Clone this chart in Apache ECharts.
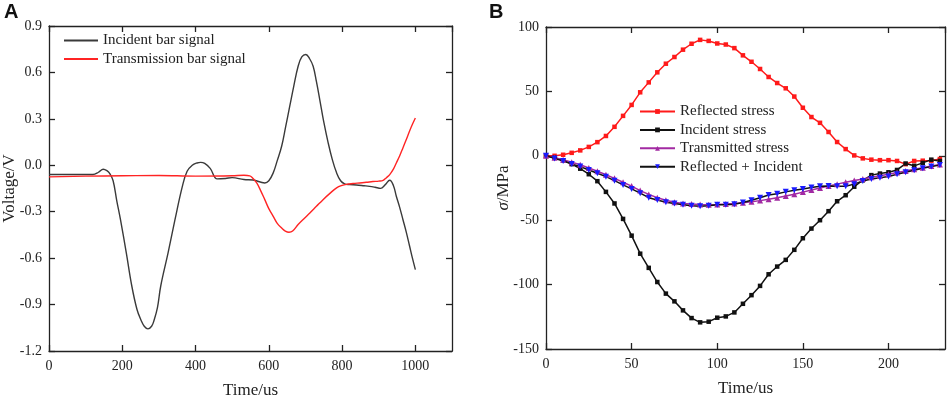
<html>
<head>
<meta charset="UTF-8">
<script src="https://cdn.jsdelivr.net/npm/echarts@6/dist/echarts.min.js"></script>
<style>
  body { margin: 0; background: #fff; }
  #chart { width: 948px; height: 397px; }
</style>
</head>
<body>
<div id="chart"></div>
<script>
// panel A - bar signals
var timeIncA = [0, 60, 120, 135, 148, 158, 166, 175, 185, 195, 211, 226, 240, 251, 260, 270, 280, 287, 296, 305, 325, 344, 364, 377, 391, 404, 414, 425, 440, 459, 482, 500, 532, 557, 589, 600, 612, 623, 635, 646, 657, 668, 680, 690, 701, 711, 721, 730, 739, 750, 762, 773, 785, 796, 807, 820, 839, 860, 875, 890, 905, 918, 930, 940, 948, 957, 966, 975, 984, 992, 1000];
var voltIncA = [-0.06, -0.06, -0.06, -0.045, -0.026, -0.035, -0.054, -0.1, -0.23, -0.35, -0.566, -0.78, -0.93, -1.0, -1.04, -1.057, -1.04, -1.0, -0.92, -0.78, -0.566, -0.35, -0.136, -0.039, 0.0, 0.015, 0.019, 0.012, -0.02, -0.088, -0.085, -0.08, -0.092, -0.095, -0.114, -0.1, -0.049, 0.03, 0.123, 0.25, 0.38, 0.51, 0.64, 0.70, 0.716, 0.69, 0.64, 0.54, 0.425, 0.28, 0.145, 0.04, -0.049, -0.1, -0.12, -0.125, -0.127, -0.132, -0.136, -0.142, -0.149, -0.125, -0.097, -0.13, -0.2, -0.27, -0.35, -0.43, -0.52, -0.6, -0.674];
var timeTraA = [0, 100, 200, 300, 400, 500, 532, 548, 557, 567, 578, 589, 600, 612, 623, 635, 645, 655, 665, 680, 696, 712, 730, 748, 766, 785, 800, 812, 830, 848, 866, 884, 900, 912, 921, 930, 940, 948, 957, 966, 975, 984, 992, 1000];
var voltTraA = [-0.075, -0.07, -0.068, -0.066, -0.07, -0.068, -0.064, -0.068, -0.085, -0.114, -0.165, -0.222, -0.28, -0.33, -0.375, -0.405, -0.425, -0.433, -0.425, -0.383, -0.345, -0.308, -0.265, -0.222, -0.183, -0.146, -0.13, -0.123, -0.118, -0.114, -0.11, -0.105, -0.102, -0.097, -0.08, -0.06, -0.025, 0.015, 0.06, 0.112, 0.165, 0.22, 0.265, 0.306];

// panel B - stresses, one point every 5 us
var timeB = [0, 5, 10, 15, 20, 25, 30, 35, 40, 45, 50, 55, 60, 65, 70, 75, 80, 85, 90, 95, 100, 105, 110, 115, 120, 125, 130, 135, 140, 145, 150, 155, 160, 165, 170, 175, 180, 185, 190, 195, 200, 205, 210, 215, 220, 225, 230];
var reflected = [0, 0, 0.8, 2.3, 4.2, 6.9, 10.6, 15.4, 22.5, 31, 39.5, 49.3, 57, 64.8, 71.5, 76.7, 82.4, 87, 90, 89.2, 87.2, 86.4, 83.6, 78, 73, 67.4, 61.2, 56.5, 52.4, 46, 37.3, 30.1, 25.6, 18.5, 10.7, 5.2, 0.3, -2, -3, -3.4, -3.4, -4, -6.5, -4, -3.8, -3.8, -2.5];
var incident = [0, -1.5, -3.5, -6.5, -10, -14.3, -19.7, -28, -37, -49, -62, -76, -87, -98, -107, -113, -120, -126, -129.3, -128.8, -125.7, -124.7, -121.6, -114.9, -108.2, -101, -92, -86, -80.8, -73, -64, -56.5, -50, -43, -35.3, -30.6, -24, -19, -15, -13.8, -12.8, -11, -6, -7.8, -5.5, -3, -4];
var transmitted = [0, -1.5, -3, -5, -7, -9.5, -12, -14.7, -17.5, -20.5, -23.5, -27, -30, -32.5, -34.5, -36, -37, -37.5, -37.8, -38, -37.8, -37.5, -37, -36.5, -35.7, -34.8, -33.8, -32.5, -31.2, -29.8, -28.2, -26.5, -25, -23.5, -22, -20.5, -19.2, -18, -16.7, -15.5, -14.3, -13, -11.8, -10.5, -9.3, -8, -6.8];
var reflPlusInc = [0, -2, -4, -6.3, -8.4, -11, -13.6, -16.2, -19.3, -22.6, -25.7, -29, -32.5, -34.3, -36, -37, -38, -38.7, -39.2, -38.7, -38, -38, -37.6, -36.3, -34.5, -32.5, -30.4, -29.4, -28, -26.8, -25.7, -24.7, -23.7, -23.4, -23.7, -23.7, -22, -19.5, -18, -17, -16, -14.4, -12.8, -11.2, -9.7, -8.4, -7.1];

function pairs(xs, ys) {
    var out = [];
    for (var i = 0; i < xs.length; i++) {
        out.push([xs[i], ys[i]]);
    }
    return out;
}

var serif = 'Liberation Serif';
var axisCol = '#222';

function valAxis(opt) {
    var a = {
        type: 'value',
        gridIndex: opt.grid,
        position: opt.position,
        min: opt.min,
        max: opt.max,
        interval: opt.interval,
        splitLine: { show: false },
        axisLine: { show: true, onZero: false, lineStyle: { color: axisCol, width: 1.3 } },
        axisTick: { show: true, inside: true, length: 6, lineStyle: { color: axisCol, width: 1.3 } },
        axisLabel: {
            show: !opt.mirror,
            margin: opt.margin || 7,
            color: '#222',
            fontFamily: serif,
            fontSize: 14,
            showMaxLabel: opt.showMax !== false,
            formatter: opt.fmt || function (v) { return String(v); }
        }
    };
    if (opt.name) {
        a.name = opt.name;
        a.nameLocation = 'middle';
        a.nameGap = opt.nameGap;
        a.nameMoveOverlap = false;
        a.nameTextStyle = { color: '#222', fontFamily: serif, fontSize: 17, rich: { i: { fontStyle: 'italic', fontFamily: serif, fontSize: 17, color: '#222' } } };
    }
    return a;
}

var chart = echarts.init(document.getElementById('chart'));
var option = {
    animation: false,
    backgroundColor: '#fff',
    graphic: [
        { type: 'text', left: 4, top: 2, style: { text: 'A', font: 'bold 20px "Liberation Sans"', fill: '#111' } },
        { type: 'text', left: 489, top: 2, style: { text: 'B', font: 'bold 20px "Liberation Sans"', fill: '#111' } }
    ],
    grid: [
        { left: 49, top: 26, width: 403, height: 325, outerBoundsMode: 'none' },
        { left: 546, top: 27, width: 399, height: 322, outerBoundsMode: 'none' }
    ],
    legend: [
        {
            orient: 'vertical', left: 58, top: 28, itemWidth: 34, itemHeight: 8, itemGap: 3.4,
            itemStyle: { opacity: 0 },
            textStyle: { fontFamily: serif, fontSize: 15, color: '#222' },
            data: ['Incident bar signal', 'Transmission bar signal']
        },
        {
            orient: 'vertical', left: 634, top: 99, itemWidth: 35, itemHeight: 6, itemGap: 3.4,
            textStyle: { fontFamily: serif, fontSize: 15, color: '#222' },
            data: ['Reflected stress', 'Incident stress', 'Transmitted stress', 'Reflected + Incident']
        }
    ],
    xAxis: [
        valAxis({ grid: 0, position: 'bottom', min: 0, max: 1100, interval: 200, showMax: false, margin: 8, name: 'Time/us', nameGap: 31 }),
        valAxis({ grid: 0, position: 'top', min: 0, max: 1100, interval: 200, mirror: true }),
        valAxis({ grid: 1, position: 'bottom', min: 0, max: 233, interval: 50, showMax: false, margin: 8, name: 'Time/us', nameGap: 31 }),
        valAxis({ grid: 1, position: 'top', min: 0, max: 233, interval: 50, mirror: true })
    ],
    yAxis: [
        valAxis({ grid: 0, position: 'left', min: -1.2, max: 0.9, interval: 0.3, name: 'Voltage/V', nameGap: 31,
            fmt: function (v) { return v.toFixed(1); } }),
        valAxis({ grid: 0, position: 'right', min: -1.2, max: 0.9, interval: 0.3, mirror: true }),
        valAxis({ grid: 1, position: 'left', min: -150, max: 100, interval: 50, name: '{i|σ}/MPa', nameGap: 34 }),
        valAxis({ grid: 1, position: 'right', min: -150, max: 100, interval: 50, mirror: true })
    ],
    series: [
        {
            name: 'Incident bar signal', type: 'line', xAxisIndex: 0, yAxisIndex: 0,
            data: pairs(timeIncA, voltIncA), smooth: 0.4, symbol: 'none',
            lineStyle: { color: '#3a3a3a', width: 1.4 }, itemStyle: { color: '#3a3a3a' }
        },
        {
            name: 'Transmission bar signal', type: 'line', xAxisIndex: 0, yAxisIndex: 0,
            data: pairs(timeTraA, voltTraA), smooth: 0.4, symbol: 'none',
            lineStyle: { color: '#ff2424', width: 1.4 }, itemStyle: { color: '#ff2424' }
        },
        {
            name: 'Reflected stress', type: 'line', xAxisIndex: 2, yAxisIndex: 2,
            data: pairs(timeB, reflected), symbol: 'rect', symbolSize: 4.5,
            lineStyle: { color: '#ff1a1a', width: 1.5 }, itemStyle: { color: '#ff1a1a' }
        },
        {
            name: 'Incident stress', type: 'line', xAxisIndex: 2, yAxisIndex: 2,
            data: pairs(timeB, incident), symbol: 'rect', symbolSize: 4.5,
            lineStyle: { color: '#111', width: 1.5 }, itemStyle: { color: '#111' }
        },
        {
            name: 'Transmitted stress', type: 'line', xAxisIndex: 2, yAxisIndex: 2,
            data: pairs(timeB, transmitted), symbol: 'triangle', symbolSize: 6,
            lineStyle: { color: '#a22aa2', width: 1.5 }, itemStyle: { color: '#a22aa2' }
        },
        {
            name: 'Reflected + Incident', type: 'line', xAxisIndex: 2, yAxisIndex: 2,
            data: pairs(timeB, reflPlusInc), symbol: 'triangle', symbolRotate: 180, symbolSize: 6,
            lineStyle: { color: '#111', width: 1.5 }, itemStyle: { color: '#1a1aff' }
        }
    ]
};
chart.setOption(option);
</script>
</body>
</html>
